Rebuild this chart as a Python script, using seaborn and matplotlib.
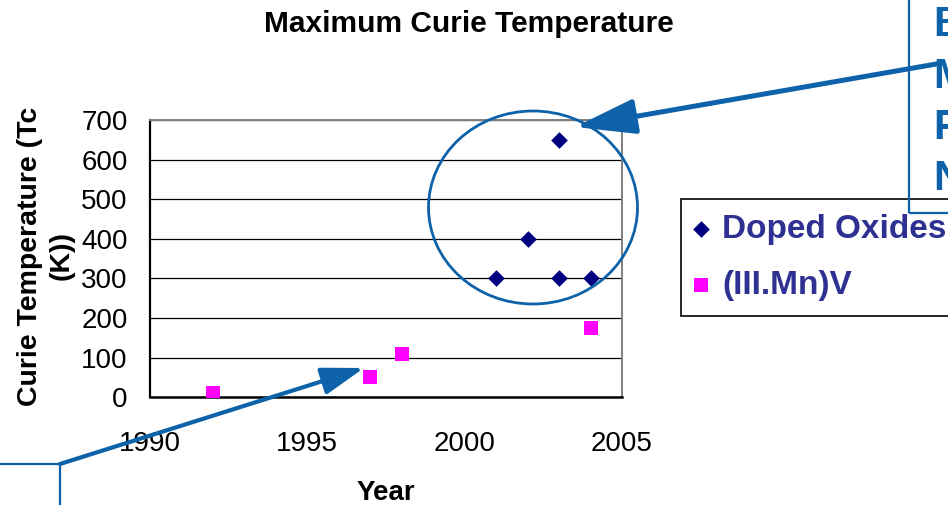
import matplotlib
matplotlib.use("Agg")
import matplotlib.pyplot as plt
import seaborn as sns
import pandas as pd
from matplotlib.patches import Ellipse, Rectangle, FancyArrowPatch, ArrowStyle

# Record Curie temperatures by year
oxide_years = [2001, 2002, 2003, 2003, 2004]
oxide_tc = [300, 400, 650, 300, 300]
iiimnv_years = [1992, 1997, 1998, 2004]
iiimnv_tc = [10, 50, 110, 175]

series_labels = ["Doped Oxides", "(III.Mn)V"]
x_ticks = [1990, 1995, 2000, 2005]
y_ticks = [0, 100, 200, 300, 400, 500, 600, 700]
side_letters = ["B", "M", "P", "N"]

oxides = pd.DataFrame({"Year": oxide_years, "Tc": oxide_tc})
iiimnv = pd.DataFrame({"Year": iiimnv_years, "Tc": iiimnv_tc})

sns.set_style("white")
plt.rcParams["font.family"] = ["Liberation Sans", "DejaVu Sans"]

W, H = 948, 505
fig = plt.figure(figsize=(W / 100, H / 100), dpi=100)


def fx(px):
    return px / W


def fy(py):
    return 1 - py / H


ax = fig.add_axes([fx(150), fy(397.3), (622 - 150) / W, (397.3 - 120) / H])

sns.scatterplot(data=oxides, x="Year", y="Tc", marker="D", color="#000080",
                s=72, linewidth=0, label=series_labels[0], ax=ax, zorder=4)
sns.scatterplot(data=iiimnv, x="Year", y="Tc", marker="s", color="#ff00ff",
                s=88, linewidth=0, label=series_labels[1], ax=ax, zorder=4)

ax.set_xlim(1990, 2005)
ax.set_ylim(0, 700)
ax.set_xticks(x_ticks)
ax.set_yticks(y_ticks)
ax.set_xlabel("")
ax.set_ylabel("")

for lab in ax.get_xticklabels() + ax.get_yticklabels():
    lab.set_fontsize(20)
    lab.set_color("black")

ax.tick_params(axis="both", direction="out", length=8, width=1.0, color="black")
ax.tick_params(axis="x", pad=16)
ax.tick_params(axis="y", pad=8)

ax.yaxis.grid(True, color="black", linewidth=0.9, zorder=1)
ax.set_axisbelow(True)
ax.spines["left"].set_color("black")
ax.spines["left"].set_linewidth(1.6)
ax.spines["bottom"].set_color("black")
ax.spines["bottom"].set_linewidth(1.8)
for side in ("top", "right"):
    ax.spines[side].set_visible(True)
    ax.spines[side].set_color("#808080")
    ax.spines[side].set_linewidth(1.4)

# Titles
fig.text(fx(469), fy(24), "Maximum Curie Temperature", ha="center", va="center",
         fontsize=21.5, fontweight="bold", color="black")
fig.text(fx(46), fy(256), "Curie Temperature (Tc\n(K))", ha="center", va="center",
         rotation=90, fontsize=20.5, fontweight="bold", color="black",
         multialignment="center", linespacing=1.3)
fig.text(fx(386), fy(493), "Year", ha="center", va="center",
         fontsize=20, fontweight="bold", color="black")

# Legend
handles, labels = ax.get_legend_handles_labels()
ax.legend_.remove()
leg = fig.legend(handles, labels, loc="upper left",
                 bbox_to_anchor=(fx(681), fy(199)), bbox_transform=fig.transFigure,
                 borderaxespad=0, frameon=True, fancybox=False, framealpha=1,
                 edgecolor="black", prop={"size": 24, "weight": "bold"},
                 labelcolor="#2e3192", handlelength=0.3, handletextpad=0.48,
                 borderpad=0.45, labelspacing=0.75, scatterpoints=1)
leg.get_frame().set_linewidth(1.2)

blue = "#0d62a9"

# Highlight around the oxide results
fig.patches.append(Ellipse((fx(533), fy(207.5)), 209 / W, 193 / H,
                           transform=fig.transFigure, fill=False,
                           edgecolor=blue, linewidth=2.0, zorder=6))

# Callout boxes
fig.patches.append(Rectangle((fx(909), fy(213)), 80 / W, 240 / H,
                             transform=fig.transFigure, fill=False,
                             edgecolor=blue, linewidth=1.6, zorder=6))
fig.patches.append(Rectangle((fx(-20), fy(530)), 80 / W, 66 / H,
                             transform=fig.transFigure, fill=False,
                             edgecolor=blue, linewidth=1.6, zorder=6))

for letter, yc in zip(side_letters, [25, 77, 128, 179]):
    fig.text(fx(933), fy(yc), letter, ha="left", va="center", fontsize=30,
             fontweight="bold", color=blue)

# Callout arrows
fig.patches.append(FancyArrowPatch((fx(942), fy(63)), (fx(575), fy(127)),
                                   transform=fig.transFigure,
                                   arrowstyle=ArrowStyle("-|>", head_length=1.55, head_width=0.45),
                                   mutation_scale=24, linewidth=3.6, color=blue,
                                   shrinkA=0, shrinkB=0, zorder=7))
fig.patches.append(FancyArrowPatch((fx(60), fy(464)), (fx(364), fy(368)),
                                   transform=fig.transFigure,
                                   arrowstyle=ArrowStyle("-|>", head_length=1.3, head_width=0.42),
                                   mutation_scale=20, linewidth=3.0, color=blue,
                                   shrinkA=0, shrinkB=0, zorder=7))

fig.savefig("out.png", dpi=100)
